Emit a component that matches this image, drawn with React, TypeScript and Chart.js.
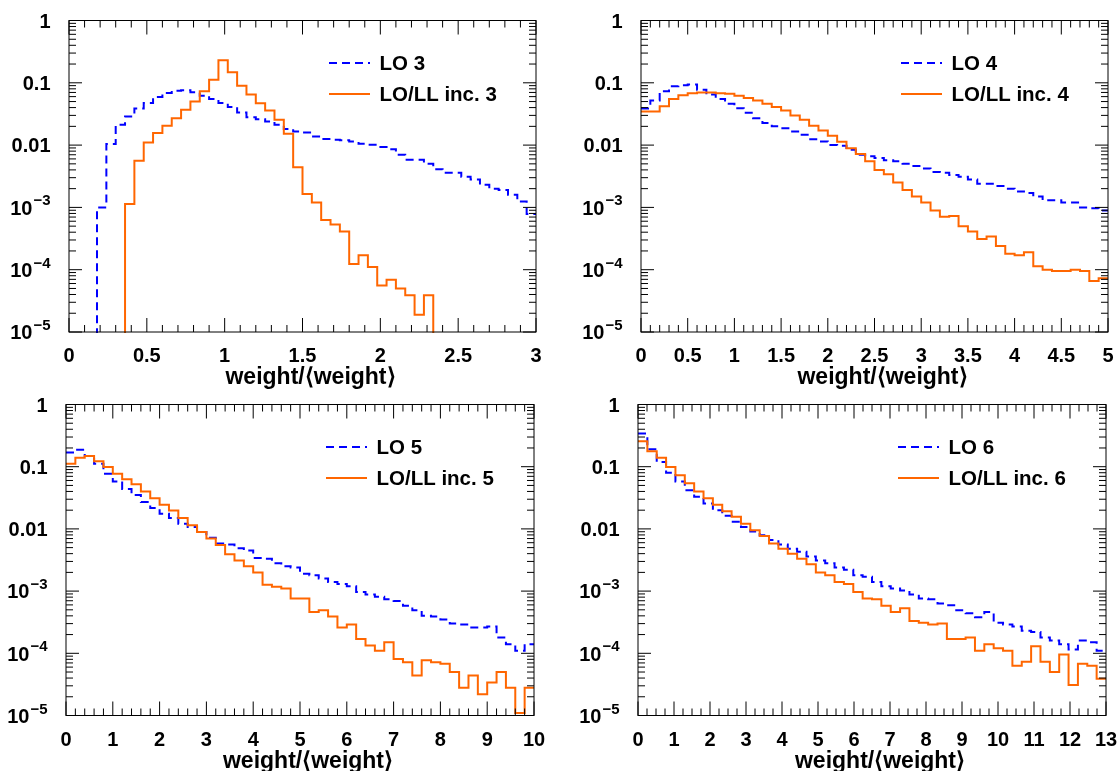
import React, { useEffect, useRef } from "react";
import { Chart, registerables } from "chart.js";
Chart.register(...registerables);

// ---------- data (bin contents, 50 bins per histogram) ----------
const LO_3 = [0, 0, 0, 0.001, 0.0104, 0.0212, 0.0289, 0.0388, 0.0473, 0.059, 0.0685, 0.0747, 0.0757, 0.0703, 0.062, 0.055, 0.0473, 0.0408, 0.0335, 0.0281, 0.0261, 0.024, 0.0212, 0.0181, 0.0166, 0.016, 0.0138, 0.0125, 0.0122, 0.012, 0.0114, 0.0105, 0.0101, 0.0093, 0.0086, 0.007, 0.0058, 0.0058, 0.005, 0.0041, 0.0036, 0.0036, 0.0031, 0.0028, 0.0023, 0.002, 0.0019, 0.0016, 0.00124, 0.00078];
const LL_3 = [0, 0, 0, 0, 0, 0, 0.00113, 0.0056, 0.011, 0.0156, 0.0205, 0.027, 0.037, 0.05, 0.073, 0.112, 0.23, 0.148, 0.09, 0.065, 0.047, 0.036, 0.0256, 0.0152, 0.0044, 0.00164, 0.0012, 0.00063, 0.00053, 0.00041, 0.000123, 0.00017, 0.00011, 0.000056, 0.000069, 0.00005, 0.000039, 0.000019, 0.000039, 0, 0, 0, 0, 0, 0, 0, 0, 0, 0, 0];

const LO_4 = [0.0388, 0.052, 0.073, 0.088, 0.091, 0.094, 0.077, 0.065, 0.055, 0.046, 0.039, 0.033, 0.027, 0.0226, 0.02, 0.0187, 0.0166, 0.0146, 0.0124, 0.0114, 0.01, 0.0098, 0.0084, 0.007, 0.0066, 0.0062, 0.0057, 0.0055, 0.005, 0.0046, 0.0042, 0.0037, 0.0036, 0.0033, 0.0031, 0.0028, 0.0024, 0.0024, 0.0022, 0.002, 0.0018, 0.0017, 0.0015, 0.0013, 0.0013, 0.0012, 0.0012, 0.001, 0.00097, 0.00089];
const LL_4 = [0.0347, 0.0347, 0.042, 0.055, 0.063, 0.068, 0.07, 0.07, 0.068, 0.067, 0.062, 0.057, 0.052, 0.046, 0.041, 0.036, 0.03, 0.0256, 0.0205, 0.0172, 0.0141, 0.0113, 0.0089, 0.0072, 0.0055, 0.004, 0.0034, 0.0025, 0.0019, 0.0015, 0.0012, 0.00089, 0.00071, 0.00073, 0.0005, 0.00041, 0.00031, 0.00034, 0.00024, 0.00018, 0.00017, 0.00019, 0.000114, 0.0001, 0.000095, 0.000095, 0.0001, 0.000095, 0.000066, 0.000073];

const LO_5 = [0.169, 0.188, 0.149, 0.112, 0.077, 0.058, 0.044, 0.035, 0.027, 0.0216, 0.0176, 0.015, 0.0121, 0.0107, 0.0089, 0.0072, 0.0058, 0.0056, 0.0049, 0.0045, 0.0034, 0.0033, 0.0028, 0.0025, 0.0024, 0.0019, 0.0018, 0.0016, 0.0014, 0.0013, 0.0012, 0.00097, 0.00088, 0.00081, 0.00074, 0.00069, 0.00058, 0.00049, 0.0004, 0.00039, 0.00035, 0.0003, 0.00029, 0.00026, 0.00026, 0.00027, 0.00018, 0.00014, 0.00011, 0.00014];
const LL_5 = [0.112, 0.139, 0.149, 0.122, 0.099, 0.077, 0.063, 0.052, 0.04, 0.031, 0.0245, 0.0197, 0.015, 0.0114, 0.0089, 0.007, 0.0055, 0.0039, 0.0031, 0.0025, 0.002, 0.00126, 0.00117, 0.0011, 0.00076, 0.00076, 0.00046, 0.00049, 0.00039, 0.00026, 0.00029, 0.00017, 0.000134, 0.00011, 0.00015, 0.000081, 0.000072, 0.000044, 0.000077, 0.000072, 0.000068, 0.00005, 0.000028, 0.000044, 0.000022, 0.000034, 0.00005, 0.000028, 0.000011, 0.000028];

const LO_6 = [0.341, 0.191, 0.119, 0.08, 0.058, 0.042, 0.033, 0.0256, 0.02, 0.0162, 0.013, 0.0107, 0.0091, 0.0079, 0.0066, 0.0056, 0.0048, 0.0043, 0.0036, 0.0031, 0.0028, 0.0024, 0.0022, 0.0018, 0.0017, 0.0014, 0.0012, 0.0011, 0.00102, 0.00088, 0.00076, 0.00074, 0.00063, 0.00059, 0.00049, 0.00044, 0.00038, 0.00046, 0.00031, 0.00029, 0.00027, 0.00023, 0.00022, 0.00018, 0.00016, 0.00014, 0.000115, 0.00016, 0.00015, 0.00011];
const LL_6 = [0.257, 0.177, 0.139, 0.099, 0.073, 0.054, 0.04, 0.031, 0.0245, 0.0193, 0.0157, 0.0121, 0.0095, 0.0077, 0.0058, 0.0048, 0.004, 0.0033, 0.0027, 0.002, 0.0018, 0.0014, 0.0013, 0.00097, 0.00076, 0.00074, 0.00058, 0.00046, 0.00053, 0.00033, 0.00031, 0.00029, 0.0003, 0.00017, 0.00017, 0.00018, 0.00011, 0.00014, 0.00012, 0.00011, 0.000063, 0.000073, 0.00013, 0.000073, 0.00005, 0.000096, 0.000031, 0.000068, 0.000063, 0.000039];

// ---------- tick labels ----------
const X_TICKS_3 = [0, 0.5, 1, 1.5, 2, 2.5, 3];
const X_LABELS_3 = ["0", "0.5", "1", "1.5", "2", "2.5", "3"];
const X_TICKS_4 = [0, 0.5, 1, 1.5, 2, 2.5, 3, 3.5, 4, 4.5, 5];
const X_LABELS_4 = ["0", "0.5", "1", "1.5", "2", "2.5", "3", "3.5", "4", "4.5", "5"];
const X_TICKS_5 = [0, 1, 2, 3, 4, 5, 6, 7, 8, 9, 10];
const X_LABELS_5 = ["0", "1", "2", "3", "4", "5", "6", "7", "8", "9", "10"];
const X_TICKS_6 = [0, 1, 2, 3, 4, 5, 6, 7, 8, 9, 10, 11, 12, 13];
const X_LABELS_6 = ["0", "1", "2", "3", "4", "5", "6", "7", "8", "9", "10", "11", "12", "13"];

const Y_TICKS = [1, 0.1, 0.01, 1e-3, 1e-4, 1e-5];
const Y_LABEL_BASE = ["1", "0.1", "0.01", "10", "10", "10"];
const Y_LABEL_EXP = ["", "", "", "\u22123", "\u22124", "\u22125"];

const X_TITLE = "weight/\u27E8weight\u27E9";

// ---------- styling / layout ----------
const W = 1117;
const H = 771;
const BLUE = "#0000ff";
const ORANGE = "#ff6600";
const FONT = '"Liberation Sans", Arial, Helvetica, sans-serif';
const TICK_FONT = 20;
const EXP_FONT = 15;
const TITLE_FONT = 23;
const LEGEND_FONT = 20.5;

type Panel = {
  area: [number, number, number, number]; // left, top, right, bottom (page px)
  xMax: number;
  minor: number;
  xTicks: number[];
  xLabels: string[];
  lo: number[];
  ll: number[];
  loName: string;
  llName: string;
};

const PANELS: Panel[] = [
  { area: [69, 20.5, 536, 332], xMax: 3, minor: 0.1, xTicks: X_TICKS_3, xLabels: X_LABELS_3, lo: LO_3, ll: LL_3, loName: "LO 3", llName: "LO/LL inc. 3" },
  { area: [641, 20.5, 1108, 332], xMax: 5, minor: 0.1, xTicks: X_TICKS_4, xLabels: X_LABELS_4, lo: LO_4, ll: LL_4, loName: "LO 4", llName: "LO/LL inc. 4" },
  { area: [66, 404.5, 534, 715.5], xMax: 10, minor: 0.2, xTicks: X_TICKS_5, xLabels: X_LABELS_5, lo: LO_5, ll: LL_5, loName: "LO 5", llName: "LO/LL inc. 5" },
  { area: [638, 404.5, 1106, 715.5], xMax: 13, minor: 0.25, xTicks: X_TICKS_6, xLabels: X_LABELS_6, lo: LO_6, ll: LL_6, loName: "LO 6", llName: "LO/LL inc. 6" },
];

function toSteps(values: number[], xMax: number) {
  const w = xMax / values.length;
  const pts = values.map((v, k) => ({ x: k * w, y: v > 0 ? v : 1e-9 }));
  const last = values[values.length - 1];
  pts.push({ x: xMax, y: last > 0 ? last : 1e-9 });
  return pts;
}

function makeOverlay(p: Panel) {
  return {
    id: "rootOverlay",
    afterDatasetsDraw(chart: any) {
      const ctx: CanvasRenderingContext2D = chart.ctx;
      const a = chart.chartArea;
      const xs = chart.scales.x;
      const ys = chart.scales.y;
      ctx.save();
      ctx.strokeStyle = "#000";
      ctx.lineWidth = 1;
      ctx.setLineDash([]);
      // frame
      ctx.strokeRect(a.left, a.top, a.right - a.left, a.bottom - a.top);
      // x ticks (top & bottom, inside)
      ctx.beginPath();
      const nMinor = Math.round(p.xMax / p.minor);
      for (let i = 0; i <= nMinor; i++) {
        const v = i * p.minor;
        const isMajor = p.xTicks.some((t) => Math.abs(t - v) < 1e-6);
        const len = isMajor ? 14 : 7;
        const px = xs.getPixelForValue(v);
        ctx.moveTo(px, a.bottom);
        ctx.lineTo(px, a.bottom - len);
        ctx.moveTo(px, a.top);
        ctx.lineTo(px, a.top + len);
      }
      // y ticks (log, left & right, inside)
      for (let e = -5; e <= 0; e++) {
        for (let m = 1; m <= 9; m++) {
          const v = m * Math.pow(10, e);
          if (v > 1.000001) break;
          const len = m === 1 ? 13 : 7;
          const py = ys.getPixelForValue(v);
          ctx.moveTo(a.left, py);
          ctx.lineTo(a.left + len, py);
          ctx.moveTo(a.right, py);
          ctx.lineTo(a.right - len, py);
        }
      }
      ctx.stroke();

      // x tick labels
      ctx.fillStyle = "#000";
      ctx.font = `bold ${TICK_FONT}px ${FONT}`;
      ctx.textAlign = "center";
      ctx.textBaseline = "alphabetic";
      p.xTicks.forEach((t, i) => {
        ctx.fillText(p.xLabels[i], xs.getPixelForValue(t), a.bottom + 30);
      });

      // y tick labels
      const rightEdge = a.left - 18.5;
      Y_TICKS.forEach((t, i) => {
        const py = ys.getPixelForValue(t);
        const base = Y_LABEL_BASE[i];
        const exp = Y_LABEL_EXP[i];
        ctx.textAlign = "left";
        ctx.font = `bold ${EXP_FONT}px ${FONT}`;
        const ew = exp ? ctx.measureText(exp).width + 1 : 0;
        ctx.font = `bold ${TICK_FONT}px ${FONT}`;
        const bw = ctx.measureText(base).width;
        ctx.fillText(base, rightEdge - ew - bw, py + 7.2);
        if (exp) {
          ctx.font = `bold ${EXP_FONT}px ${FONT}`;
          ctx.fillText(exp, rightEdge - ew + 1, py - 2);
        }
      });

      // axis title
      ctx.font = `bold ${TITLE_FONT}px ${FONT}`;
      ctx.textAlign = "center";
      ctx.fillText(X_TITLE, (a.left + a.right) / 2 + 8, a.bottom + 52);

      // legend
      const lx0 = a.left + 260;
      const lx1 = a.left + 301;
      const ly1 = a.top + 42.5;
      const ly2 = a.top + 73.5;
      ctx.lineWidth = 2;
      ctx.strokeStyle = BLUE;
      ctx.setLineDash([8, 5]);
      ctx.beginPath();
      ctx.moveTo(lx0, ly1);
      ctx.lineTo(lx1, ly1);
      ctx.stroke();
      ctx.setLineDash([]);
      ctx.strokeStyle = ORANGE;
      ctx.beginPath();
      ctx.moveTo(lx0, ly2);
      ctx.lineTo(lx1, ly2);
      ctx.stroke();
      ctx.font = `bold ${LEGEND_FONT}px ${FONT}`;
      ctx.textAlign = "left";
      ctx.fillStyle = "#000";
      ctx.fillText(p.loName, a.left + 310.5, ly1 + 7.4);
      ctx.fillText(p.llName, a.left + 310.5, ly2 + 7.4);
      ctx.restore();
    },
  };
}

function PanelChart({ p }: { p: Panel }) {
  const ref = useRef<HTMLCanvasElement | null>(null);
  useEffect(() => {
    if (!ref.current) return;
    const [L, T, R, B] = p.area;
    const chart = new Chart(ref.current, {
      type: "line",
      data: {
        datasets: [
          {
            label: p.llName,
            data: toSteps(p.ll, p.xMax),
            borderColor: ORANGE,
            borderWidth: 2,
            stepped: true,
            pointRadius: 0,
            fill: false,
            clip: 1,
          } as any,
          {
            label: p.loName,
            data: toSteps(p.lo, p.xMax),
            borderColor: BLUE,
            borderWidth: 2,
            borderDash: [8, 5],
            stepped: true,
            pointRadius: 0,
            fill: false,
            clip: 1,
          } as any,
        ],
      },
      options: {
        animation: false,
        responsive: false,
        events: [],
        layout: { padding: { left: L, top: T, right: W - R, bottom: H - B }, autoPadding: false } as any,
        plugins: { legend: { display: false }, tooltip: { enabled: false }, title: { display: false } },
        scales: {
          x: { type: "linear", min: 0, max: p.xMax, display: false },
          y: { type: "logarithmic", min: 1e-5, max: 1, display: false },
        },
      },
      plugins: [makeOverlay(p)],
    });
    return () => chart.destroy();
  }, [p]);
  return (
    <canvas
      ref={ref}
      width={W}
      height={H}
      style={{ position: "absolute", left: 0, top: 0, width: W, height: H }}
    />
  );
}

export default function App() {
  return (
    <div style={{ position: "absolute", left: 0, top: 0, width: W, height: H, background: "#fff", overflow: "hidden" }}>
      {PANELS.map((p, i) => (
        <PanelChart key={i} p={p} />
      ))}
    </div>
  );
}
